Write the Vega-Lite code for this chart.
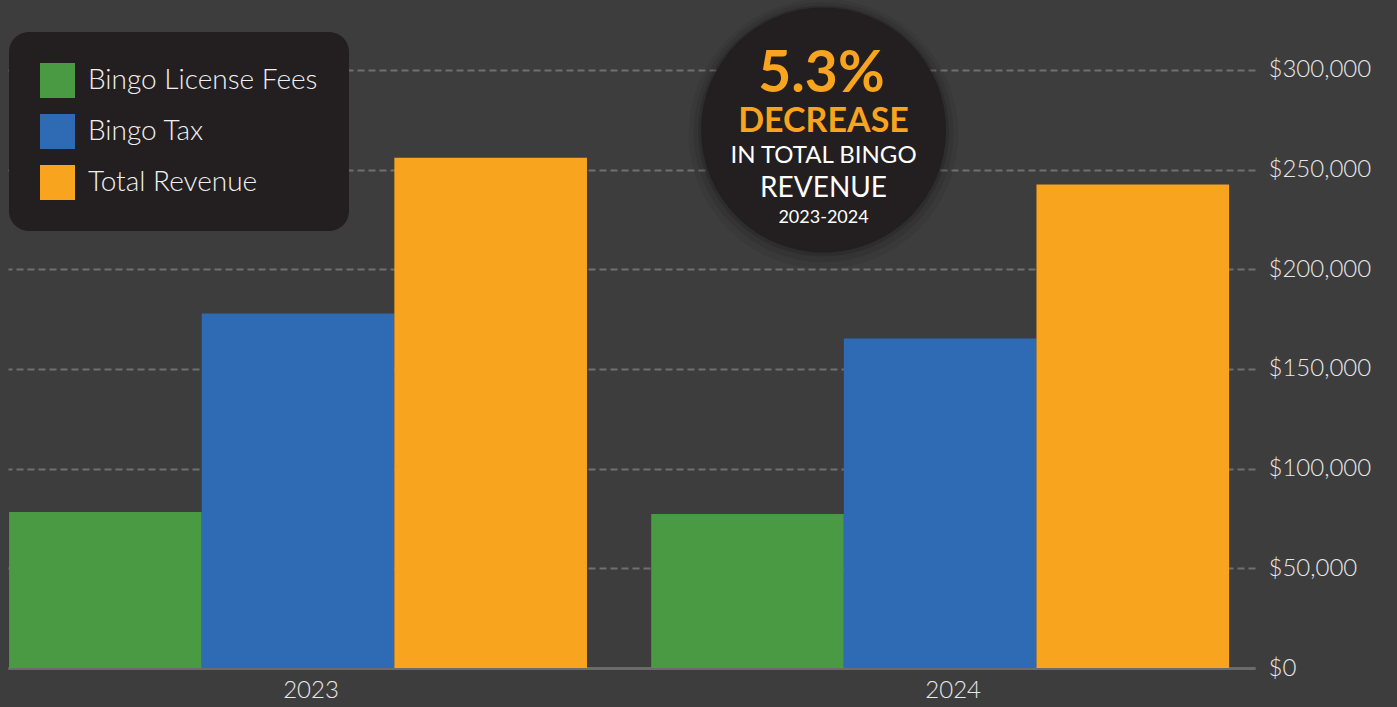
{
  "$schema": "https://vega.github.io/schema/vega-lite/v6.json",
  "width": 1247,
  "height": 668,
  "autosize": {"type": "none"},
  "padding": {"left": 8, "top": 0, "right": 142, "bottom": 39},
  "background": "#3d3d3d",
  "config": {"view": {"stroke": null}, "font": "Lato"},
  "datasets": {
    "bars": [
      {"year": "2023", "series": "Bingo License Fees", "value": 78200},
      {"year": "2023", "series": "Bingo Tax", "value": 177800},
      {"year": "2023", "series": "Total Revenue", "value": 256000},
      {"year": "2024", "series": "Bingo License Fees", "value": 77200},
      {"year": "2024", "series": "Bingo Tax", "value": 165300},
      {"year": "2024", "series": "Total Revenue", "value": 242500}
    ]
  },
  "resolve": {"scale": {"x": "independent"}},
  "layer": [
    {
      "data": {"name": "bars"},
      "mark": {"type": "bar"},
      "encoding": {
        "x": {
          "field": "year", "type": "nominal",
          "scale": {"paddingInner": 0.1, "paddingOuter": 0.021, "align": 0.04},
          "axis": {"title": null, "labelAngle": 0, "labelFontSize": 24, "labelColor": "#e8e8e8", "labelFontWeight": 300, "ticks": false, "domainColor": "#6b6b6b", "domainWidth": 3, "labelPadding": 10, "labelOffset": 13, "grid": false}
        },
        "xOffset": {
          "field": "series", "type": "nominal",
          "sort": ["Bingo License Fees", "Bingo Tax", "Total Revenue"],
          "scale": {"paddingInner": 0, "paddingOuter": 0}
        },
        "y": {
          "field": "value", "type": "quantitative",
          "scale": {"domain": [0, 335117], "nice": false},
          "axis": {"orient": "right", "title": null, "values": [0, 50000, 100000, 150000, 200000, 250000, 300000], "format": "$,.0f", "grid": true, "gridDash": [7, 4], "gridColor": "#707070", "gridWidth": 2, "domain": false, "ticks": false, "labelPadding": 13, "labelFontSize": 24, "labelColor": "#e8e8e8", "labelFontWeight": 300}
        },
        "color": {
          "field": "series", "type": "nominal",
          "sort": ["Bingo License Fees", "Bingo Tax", "Total Revenue"],
          "scale": {"domain": ["Bingo License Fees", "Bingo Tax", "Total Revenue"], "range": ["#4a9a43", "#2f6ab5", "#f8a41e"]},
          "legend": {"title": null, "orient": "none", "legendX": 1, "legendY": 32, "fillColor": "#231f20", "cornerRadius": 20, "padding": 31, "symbolType": "square", "symbolSize": 1225, "symbolStrokeWidth": 0, "symbolOpacity": 1, "labelFontSize": 28, "labelColor": "#f0f0f0", "labelFont": "Lato", "labelFontWeight": 300, "labelOffset": 13, "rowPadding": 16, "labelLimit": 400}
        }
      }
    },
    {
      "data": {"values": [{"k": 1}]},
      "mark": {"type": "point", "shape": "circle", "filled": true, "color": "#000000", "opacity": 0.05, "size": 72900},
      "encoding": {
        "x": {"datum": 0.654, "type": "quantitative", "scale": {"domain": [0, 1]}, "axis": null},
        "y": {"datum": 268000, "type": "quantitative"}
      }
    },
    {
      "data": {"values": [{"k": 1}]},
      "mark": {"type": "point", "shape": "circle", "filled": true, "color": "#000000", "opacity": 0.08, "size": 67600},
      "encoding": {
        "x": {"datum": 0.654, "type": "quantitative", "scale": {"domain": [0, 1]}, "axis": null},
        "y": {"datum": 268800, "type": "quantitative"}
      }
    },
    {
      "data": {"values": [{"k": 1}]},
      "mark": {"type": "point", "shape": "circle", "filled": true, "color": "#000000", "opacity": 0.12, "size": 63000},
      "encoding": {
        "x": {"datum": 0.654, "type": "quantitative", "scale": {"domain": [0, 1]}, "axis": null},
        "y": {"datum": 269400, "type": "quantitative"}
      }
    },
    {
      "data": {"values": [{"k": 1}]},
      "mark": {"type": "point", "shape": "circle", "filled": true, "color": "#231f20", "opacity": 1, "size": 60025},
      "encoding": {
        "x": {"datum": 0.654, "type": "quantitative", "scale": {"domain": [0, 1]}, "axis": null},
        "y": {"datum": 269900, "type": "quantitative"}
      }
    },
    {
      "data": {"values": [{"t": "5.3%"}]},
      "mark": {"type": "text", "font": "Lato", "fontWeight": "bold", "fontSize": 57, "color": "#f8a41e", "align": "center", "baseline": "alphabetic"},
      "encoding": {
        "x": {"datum": 0.6523, "type": "quantitative", "scale": {"domain": [0, 1]}, "axis": null},
        "y": {"datum": 289200, "type": "quantitative"},
        "text": {"field": "t"}
      }
    },
    {
      "data": {"values": [{"t": "DECREASE"}]},
      "mark": {"type": "text", "font": "Lato", "fontWeight": "bold", "fontSize": 34, "color": "#f8a41e", "align": "center", "baseline": "alphabetic"},
      "encoding": {
        "x": {"datum": 0.654, "type": "quantitative", "scale": {"domain": [0, 1]}, "axis": null},
        "y": {"datum": 269000, "type": "quantitative"},
        "text": {"field": "t"}
      }
    },
    {
      "data": {"values": [{"t": "IN TOTAL BINGO"}]},
      "mark": {"type": "text", "font": "Lato", "fontSize": 24, "color": "#ffffff", "align": "center", "baseline": "alphabetic"},
      "encoding": {
        "x": {"datum": 0.654, "type": "quantitative", "scale": {"domain": [0, 1]}, "axis": null},
        "y": {"datum": 253343, "type": "quantitative"},
        "text": {"field": "t"}
      }
    },
    {
      "data": {"values": [{"t": "REVENUE"}]},
      "mark": {"type": "text", "font": "Lato", "fontSize": 28, "color": "#ffffff", "align": "center", "baseline": "alphabetic"},
      "encoding": {
        "x": {"datum": 0.654, "type": "quantitative", "scale": {"domain": [0, 1]}, "axis": null},
        "y": {"datum": 236287, "type": "quantitative"},
        "text": {"field": "t"}
      }
    },
    {
      "data": {"values": [{"t": "2023-2024"}]},
      "mark": {"type": "text", "font": "Lato", "fontSize": 18, "color": "#ffffff", "align": "center", "baseline": "alphabetic"},
      "encoding": {
        "x": {"datum": 0.654, "type": "quantitative", "scale": {"domain": [0, 1]}, "axis": null},
        "y": {"datum": 223243, "type": "quantitative"},
        "text": {"field": "t"}
      }
    }
  ]
}
